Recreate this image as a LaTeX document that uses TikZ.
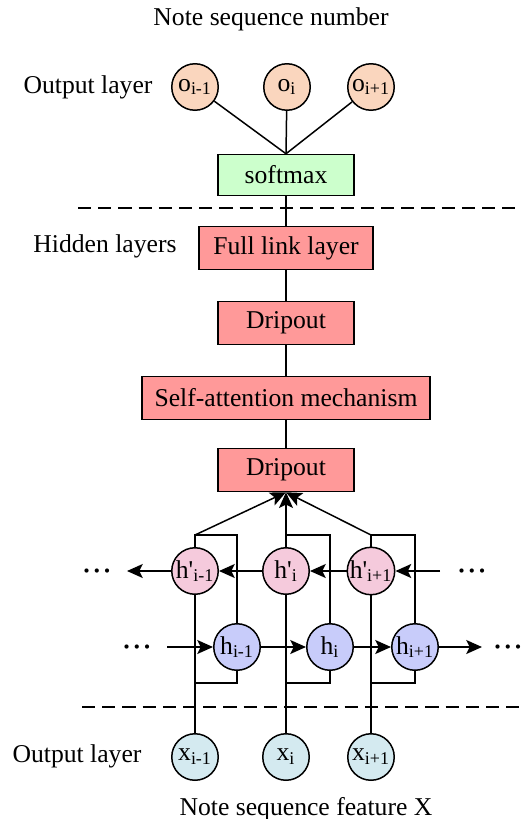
\documentclass[tikz,border=0pt]{standalone}
\usepackage{fontspec}
\setmainfont{Liberation Serif}
\usetikzlibrary{arrows.meta, calc}
\definecolor{outfill}{RGB}{250,214,190}
\definecolor{softfill}{RGB}{204,255,204}
\definecolor{boxfill}{RGB}{255,153,153}
\definecolor{bwdfill}{RGB}{245,202,220}
\definecolor{fwdfill}{RGB}{200,204,250}
\definecolor{infill}{RGB}{212,234,240}
\tikzset{
	unit/.style={circle, draw, line width=0.85pt, minimum size=0.93cm, inner sep=0pt},
	outunit/.style={unit, fill=outfill},
	bwdunit/.style={unit, fill=bwdfill},
	fwdunit/.style={unit, fill=fwdfill},
	inunit/.style={unit, fill=infill},
	layerbox/.style={draw, line width=0.85pt, fill=boxfill, minimum height=0.86cm, inner sep=2pt},
	softbox/.style={layerbox, fill=softfill, minimum height=0.82cm},
	label/.style={anchor=base},
	more/.style={inner sep=0pt, anchor=base},
	line/.style={draw, line width=0.85pt},
	arrow/.style={line, -{Stealth[length=9pt,width=8pt,inset=2pt]}},
	sep/.style={line width=0.85pt, dash pattern=on 7.5pt off 4pt}
}
\newcommand{\idx}[2]{#1\textsubscript{#2}}
\newcommand{\ellip}{\textbf{\textperiodcentered\kern1pt\textperiodcentered\kern1pt\textperiodcentered}}

\begin{document}
\begin{tikzpicture}[x=0.02cm, y=-0.02cm, font=\fontsize{14.6}{17}\selectfont]
	\useasboundingbox (0,0) rectangle (522,819);
	% Output Layer
	\node[label] (title) at (271,25) {Note sequence number};
	\node[label] (lblout) at (88,93) {Output layer};
	\node[outunit] (O-1) at (195,87) {\idx{o}{i-1}};
	\node[outunit] (O-2) at (287,87) {\idx{o}{i}};
	\node[outunit] (O-3) at (371,87) {\idx{o}{i+1}};
	\node[softbox, minimum width=2.72cm] (soft) at (286,175) {softmax};
	\draw[sep] (78,208) -- (522,208);
	
	% Hidden Layers
	\node[label] (lblhid) at (105,252) {Hidden layers};
	\node[layerbox, minimum width=3.48cm] (full) at (286,248) {Full link layer};
	\node[layerbox, minimum width=2.72cm] (drop1) at (286,323) {Dripout};
	\node[layerbox, minimum width=5.76cm] (att) at (286,398) {Self-attention mechanism};
	\node[layerbox, minimum width=2.72cm] (drop2) at (286,470) {Dripout};
	
	% BiLSTM units
	\node[bwdunit] (HB-1) at (195,571) {\idx{h\textquotesingle}{i-1}};
	\node[bwdunit] (HB-2) at (286,571) {\idx{h\textquotesingle}{i}};
	\node[bwdunit] (HB-3) at (371,571) {\idx{h\textquotesingle}{i+1}};
	\node[fwdunit] (HF-1) at (237,647) {\idx{h}{i-1}};
	\node[fwdunit] (HF-2) at (330,647) {\idx{h}{i}};
	\node[fwdunit] (HF-3) at (415,647) {\idx{h}{i+1}};
	\node[more] (dotsBL) at (97,579) {\ellip};
	\node[more] (dotsBR) at (472,579) {\ellip};
	\node[more] (dotsFL) at (137,655) {\ellip};
	\node[more] (dotsFR) at (508,655) {\ellip};
	\coordinate (bR) at (440,571);
	\coordinate (bL) at (127,571);
	\coordinate (fL) at (167,647);
	\coordinate (fR) at (482,647);
	\coordinate (hi) at (0,535);
	\coordinate (lo) at (0,683);
	
	% Input Layer
	\draw[sep] (82,707) -- (522,707);
	\node[label] (lblin) at (77,762) {Output layer};
	\node[inunit] (X-1) at (195,757) {\idx{x}{i-1}};
	\node[inunit] (X-2) at (286,757) {\idx{x}{i}};
	\node[inunit] (X-3) at (371,757) {\idx{x}{i+1}};
	\node[label] (feat) at (306,815) {Note sequence feature X};
	
	% Connections
	\foreach \i in {1,...,3}
	\draw[line] (O-\i) -- (soft.north);
	\draw[line] (soft) -- (full) -- (drop1) -- (att) -- (drop2);
	\foreach \i in {1,...,3} {
		\draw[line] (X-\i) -- (HB-\i);
		\draw[line] (X-\i |- lo) -| (HF-\i);
		\draw[line] (HF-\i) |- (HB-\i |- hi) -- (HB-\i);
		\draw[arrow] (HB-\i |- hi) -- (drop2.south);
	}
	\foreach \a/\b in {bR/HB-3, HB-3/HB-2, HB-2/HB-1, HB-1/bL, fL/HF-1, HF-1/HF-2, HF-2/HF-3, HF-3/fR}
	\draw[arrow] (\a) -- (\b);
\end{tikzpicture}
\end{document}
